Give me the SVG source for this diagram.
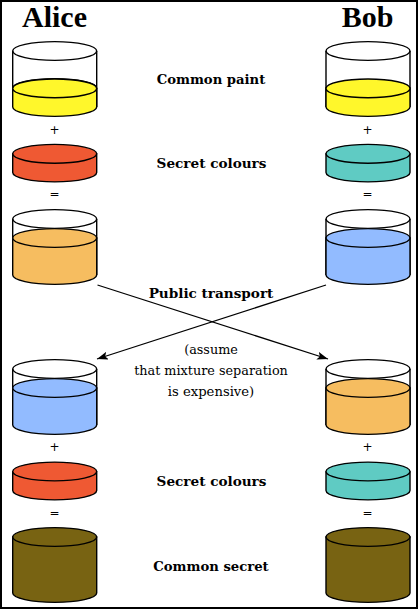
<svg xmlns="http://www.w3.org/2000/svg" width="418" height="609" viewBox="0 0 418 609">
<style>
.o{stroke:#000;stroke-width:1.4}
.w{fill:#fff}.y{fill:#fff72b}.r{fill:#ef5933}.t{fill:#5fcbc3}.a{fill:#f6bd60}.b{fill:#92bbff}.d{fill:#786312}
text{font-family:"DejaVu Serif","Liberation Serif",serif;fill:#000;text-anchor:middle}
.h{font-family:"Liberation Serif",serif;font-size:30px;font-weight:bold}
.l{font-size:13.2px;font-weight:bold}
.m{font-size:13.6px;font-weight:bold}
.n{font-size:12.8px}
.s{font-family:"DejaVu Sans",sans-serif;font-size:12px}
.c{fill:none;stroke:#000;stroke-width:1.3}
</style>
<defs>
<marker id="arr" markerUnits="userSpaceOnUse" markerWidth="12" markerHeight="10" refX="11" refY="4" orient="auto"><path d="M0 0L11 4L0 8L2.5 4Z" fill="#000"/></marker>
</defs>
<rect x="1" y="1" width="416" height="607" fill="#fff" stroke="#000" stroke-width="2"/>
<text class="h" x="54.5" y="27">Alice</text>
<text class="h" x="367.5" y="27">Bob</text>
<g id="alice-paint"><ellipse class="o w" cx="54.7" cy="51" rx="42" ry="9.4"/><path class="o w" d="M12.7 51V107M96.7 51V107"/><path class="o y" d="M12.7 88V107A42 9.4 0 0 0 96.7 107V88A42 9.4 0 0 0 12.7 88Z"/><ellipse class="o y" cx="54.7" cy="88.4" rx="42" ry="9.4"/></g>
<g id="alice-secret"><path class="o r" d="M12.7 154V172.5A42 9.4 0 0 0 96.7 172.5V154Z"/><ellipse class="o r" cx="54.7" cy="153.8" rx="42" ry="9.4"/></g>
<g id="alice-mix"><ellipse class="o w" cx="54.7" cy="219" rx="42" ry="9.4"/><path class="o w" d="M12.7 219V275M96.7 219V275"/><path class="o a" d="M12.7 238V275A42 9.4 0 0 0 96.7 275V238Z"/><ellipse class="o a" cx="54.7" cy="238" rx="42" ry="9.4"/></g>
<g id="alice-received"><ellipse class="o w" cx="54.7" cy="369" rx="42" ry="9.4"/><path class="o w" d="M12.7 369V425M96.7 369V425"/><path class="o b" d="M12.7 388V425A42 9.4 0 0 0 96.7 425V388Z"/><ellipse class="o b" cx="54.7" cy="388" rx="42" ry="9.4"/></g>
<g id="alice-secret2"><path class="o r" d="M12.7 472V490.5A42 9.4 0 0 0 96.7 490.5V472Z"/><ellipse class="o r" cx="54.7" cy="471.5" rx="42" ry="9.4"/></g>
<g id="alice-common"><path class="o d" d="M12.7 537V593A42 9.4 0 0 0 96.7 593V537Z"/><ellipse class="o d" cx="54.7" cy="537" rx="42" ry="9.4"/></g>
<g id="bob-paint"><ellipse class="o w" cx="368" cy="51" rx="42" ry="9.4"/><path class="o w" d="M326 51V107M410 51V107"/><path class="o y" d="M326 88V107A42 9.4 0 0 0 410 107V88Z"/><ellipse class="o y" cx="368" cy="88.4" rx="42" ry="9.4"/></g>
<g id="bob-secret"><path class="o t" d="M326 154V172.5A42 9.4 0 0 0 410 172.5V154Z"/><ellipse class="o t" cx="368" cy="153.8" rx="42" ry="9.4"/></g>
<g id="bob-mix"><ellipse class="o w" cx="368" cy="219" rx="42" ry="9.4"/><path class="o w" d="M326 219V275M410 219V275"/><path class="o b" d="M326 238V275A42 9.4 0 0 0 410 275V238Z"/><ellipse class="o b" cx="368" cy="238" rx="42" ry="9.4"/></g>
<g id="bob-received"><ellipse class="o w" cx="368" cy="369" rx="42" ry="9.4"/><path class="o w" d="M326 369V425M410 369V425"/><path class="o a" d="M326 388V425A42 9.4 0 0 0 410 425V388Z"/><ellipse class="o a" cx="368" cy="388" rx="42" ry="9.4"/></g>
<g id="bob-secret2"><path class="o t" d="M326 472V490.5A42 9.4 0 0 0 410 490.5V472Z"/><ellipse class="o t" cx="368" cy="471.5" rx="42" ry="9.4"/></g>
<g id="bob-common"><path class="o d" d="M326 537V593A42 9.4 0 0 0 410 593V537Z"/><ellipse class="o d" cx="368" cy="537" rx="42" ry="9.4"/></g>
<g id="connectors">
<path class="c" d="M97.5 285L328 359" marker-end="url(#arr)"/>
<path class="c" d="M326 285L97 359" marker-end="url(#arr)"/>
</g>
<g id="labels">
<text class="s" x="54.5" y="134">+</text><text class="s" x="367.5" y="134">+</text>
<text class="s" x="54.5" y="198">=</text><text class="s" x="367.5" y="198">=</text>
<text class="s" x="54.5" y="451">+</text><text class="s" x="367.5" y="451">+</text>
<text class="s" x="54.5" y="517">=</text><text class="s" x="367.5" y="517">=</text>
<text class="l" x="211" y="84">Common paint</text>
<text class="m" x="211.5" y="168">Secret colours</text>
<text class="m" x="211" y="298">Public transport</text>
<text class="m" x="211.5" y="486">Secret colours</text>
<text class="l" x="211" y="571">Common secret</text>
<text class="n" x="211" y="354">(assume</text>
<text class="n" x="211" y="375">that mixture separation</text>
<text class="n" style="font-size:13.2px" x="211" y="396">is expensive)</text>
</g>
</svg>
